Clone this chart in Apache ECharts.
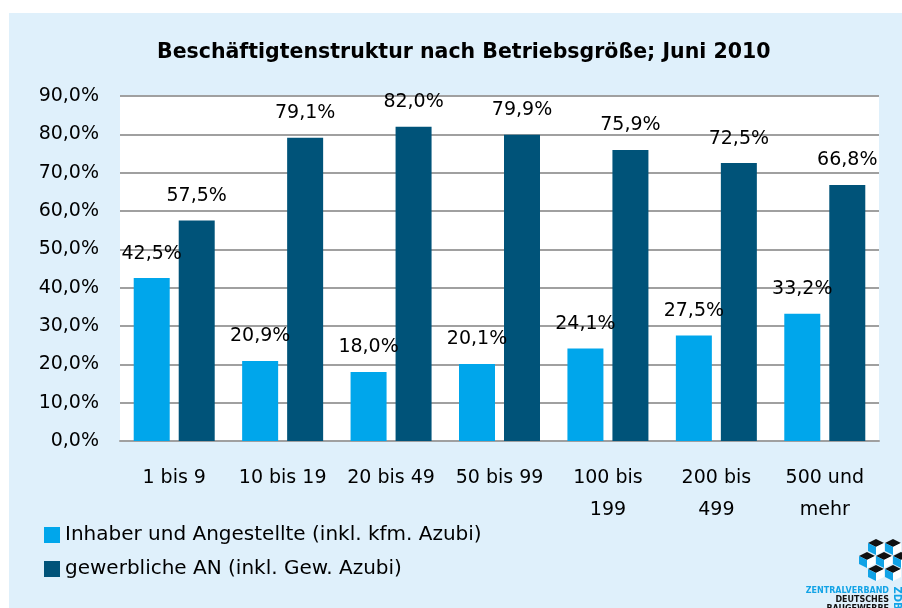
<!DOCTYPE html>
<html>
<head>
<meta charset="utf-8">
<script src="https://cdn.jsdelivr.net/npm/echarts@6/dist/echarts.min.js"></script>
<style>
  html, body { margin: 0; padding: 0; background: #ffffff; }
  #chart { width: 902px; height: 608px; }
</style>
</head>
<body>
<div id="chart"></div>
<script>
const categories = ['1 bis 9', '10 bis 19', '20 bis 49', '50 bis 99', '100 bis\n199', '200 bis\n499', '500 und\nmehr'];
const inhaberValues = [42.5, 20.9, 18.0, 20.1, 24.1, 27.5, 33.2];
const gewerblicheValues = [57.5, 79.1, 82.0, 79.9, 75.9, 72.5, 66.8];
const seriesNames = ['Inhaber und Angestellte (inkl. kfm. Azubi)', 'gewerbliche AN (inkl. Gew. Azubi)'];

const FONT = '"DejaVu Sans", sans-serif';
const pct = v => v.toFixed(1).replace('.', ',') + '%';

// logo cube: black top, blue left face, white right face
const cube = (cx, cy, s) => {
    const h = s / 2;
    return [
        { type: 'polygon', shape: { points: [[cx, cy - h], [cx + s, cy], [cx, cy + h], [cx - s, cy]] }, style: { fill: '#111' } },
        { type: 'polygon', shape: { points: [[cx - s, cy], [cx, cy + h], [cx, cy + h + s], [cx - s, cy + s]] }, style: { fill: '#12a3e6' } },
        { type: 'polygon', shape: { points: [[cx, cy + h], [cx + s, cy], [cx + s, cy + s], [cx, cy + h + s]] }, style: { fill: '#ffffff' } }
    ];
};

const chart = echarts.init(document.getElementById('chart'), null, { renderer: 'canvas' });

chart.setOption({
    backgroundColor: '#ffffff',
    animation: false,
    textStyle: { fontFamily: FONT },
    graphic: [
        { type: 'rect', z: -10, silent: true, shape: { x: 9, y: 13, width: 900, height: 600 }, style: { fill: '#dff0fb' } },
        ...cube(876, 543, 8), ...cube(893, 543, 8),
        ...cube(867, 556, 8), ...cube(884, 556, 8), ...cube(901, 556, 8),
        ...cube(876, 569, 8), ...cube(893, 569, 8),
        { type: 'text', style: { x: 889, y: 591, text: 'ZENTRALVERBAND', fill: '#12a3e6', font: 'bold 8px ' + FONT, align: 'right', verticalAlign: 'middle' } },
        { type: 'text', style: { x: 889, y: 600, text: 'DEUTSCHES', fill: '#111', font: 'bold 8px ' + FONT, align: 'right', verticalAlign: 'middle' } },
        { type: 'text', style: { x: 889, y: 609, text: 'BAUGEWERBE', fill: '#111', font: 'bold 8px ' + FONT, align: 'right', verticalAlign: 'middle' } },
        { type: 'text', x: 897, y: 598, rotation: -Math.PI / 2, style: { x: 0, y: 0, text: 'ZDB', fill: '#12a3e6', font: 'bold 10px ' + FONT, align: 'center', verticalAlign: 'middle' } }
    ],
    title: {
        text: 'Beschäftigtenstruktur nach Betriebsgröße; Juni 2010',
        left: 152,
        top: 37,
        textStyle: { fontFamily: FONT, fontSize: 20.5, fontWeight: 'bold', color: '#000' }
    },
    legend: {
        orient: 'vertical',
        left: 44,
        top: 525,
        padding: 0,
        itemWidth: 16,
        itemHeight: 16,
        itemGap: 14,
        icon: 'rect',
        textStyle: { fontFamily: FONT, fontSize: 20, color: '#000', lineHeight: 20 },
        data: seriesNames
    },
    grid: {
        left: 120,
        right: 23,
        top: 96,
        bottom: 167,
        show: true,
        backgroundColor: '#ffffff',
        borderWidth: 0
    },
    xAxis: {
        type: 'category',
        data: categories,
        axisLine: { lineStyle: { color: '#a0a0a0', width: 2 } },
        axisTick: { show: false },
        axisLabel: { fontFamily: FONT, fontSize: 19, color: '#000', margin: 21, lineHeight: 32, interval: 0 }
    },
    yAxis: {
        type: 'value',
        min: 0,
        max: 90,
        interval: 10,
        axisLine: { show: false },
        axisTick: { show: false },
        splitLine: { lineStyle: { color: '#a0a0a0', width: 2 } },
        axisLabel: { fontFamily: FONT, fontSize: 19, color: '#000', margin: 21, formatter: pct }
    },
    series: [
        {
            name: seriesNames[0],
            type: 'bar',
            data: inhaberValues,
            barWidth: 36,
            barGap: '25%',
            itemStyle: { color: '#00a6eb' },
            label: { show: true, position: 'top', distance: 15, fontFamily: FONT, fontSize: 19, color: '#000', formatter: p => pct(p.value) }
        },
        {
            name: seriesNames[1],
            type: 'bar',
            data: gewerblicheValues,
            barWidth: 36,
            itemStyle: { color: '#005379' },
            label: { show: true, position: 'top', distance: 15, fontFamily: FONT, fontSize: 19, color: '#000', formatter: p => pct(p.value) }
        }
    ]
});
</script>
</body>
</html>
